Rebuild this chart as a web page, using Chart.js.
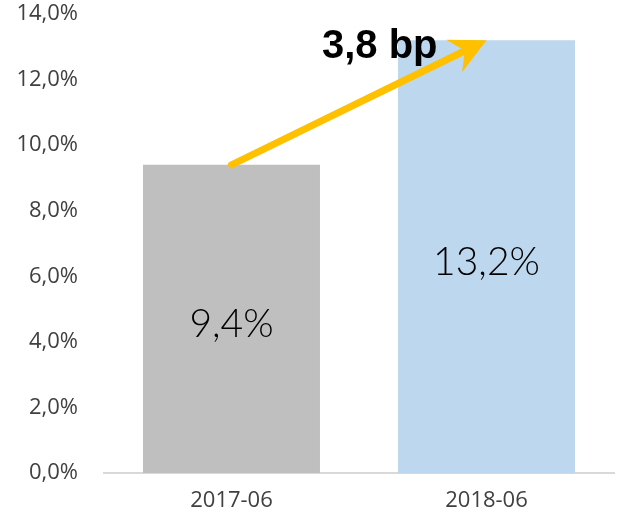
<!DOCTYPE html>
<html>
<head>
<meta charset="utf-8">
<script src="https://cdn.jsdelivr.net/npm/chart.js@4/dist/chart.umd.min.js"></script>
<style>
  html, body { margin: 0; padding: 0; background: #fff; }
  #wrap { width: 622px; height: 526px; }
</style>
</head>
<body>
<div id="wrap"><canvas id="chart" width="622" height="526"></canvas></div>
<script>
// Data
const categories = ["2017-06", "2018-06"];
const rates = [9.4, 13.2];
const barColors = ["#BFBFBF", "#BDD7EE"];
const yTicks = [0, 2, 4, 6, 8, 10, 12, 14];
const changeLabel = "3,8 bp";

const fmtPct = (v) => v.toFixed(1).replace(".", ",") + "%";

// Value labels inside bars, plus the orange arrow between bar tops
const overlayPlugin = {
  id: "overlay",
  afterDatasetsDraw(chart) {
    const ctx = chart.ctx;
    const bars = chart.getDatasetMeta(0).data;

    ctx.save();
    ctx.fillStyle = "#000";
    ctx.font = "300 39px Lato, 'Open Sans', sans-serif";
    ctx.textAlign = "center";
    ctx.textBaseline = "middle";
    bars.forEach((bar, i) => {
      ctx.fillText(fmtPct(rates[i]), bar.x, (bar.y + bar.base) / 2 + 6);
    });

    // arrow from first bar top to second bar top
    const x0 = bars[0].x, y0 = bars[0].y;
    const x1 = bars[1].x, y1 = bars[1].y;
    const len = Math.hypot(x1 - x0, y1 - y0);
    const dx = (x1 - x0) / len, dy = (y1 - y0) / len;
    const nx = -dy, ny = dx;
    const headLen = 36, headHalf = 18, notch = 24;

    ctx.strokeStyle = "#FFC000";
    ctx.fillStyle = "#FFC000";
    ctx.lineWidth = 7;
    ctx.lineCap = "round";
    ctx.beginPath();
    ctx.moveTo(x0, y0);
    ctx.lineTo(x1 - dx * notch, y1 - dy * notch);
    ctx.stroke();

    ctx.beginPath();
    ctx.moveTo(x1, y1);
    ctx.lineTo(x1 - dx * headLen + nx * headHalf, y1 - dy * headLen + ny * headHalf);
    ctx.lineTo(x1 - dx * notch, y1 - dy * notch);
    ctx.lineTo(x1 - dx * headLen - nx * headHalf, y1 - dy * headLen - ny * headHalf);
    ctx.closePath();
    ctx.fill();

    ctx.fillStyle = "#000";
    ctx.font = "bold 40px 'Liberation Sans', Arial, sans-serif";
    ctx.textAlign = "right";
    ctx.textBaseline = "alphabetic";
    ctx.fillText(changeLabel, x1 - 49, y1 + 18);
    ctx.restore();
  }
};

new Chart(document.getElementById("chart"), {
  type: "bar",
  data: {
    labels: categories,
    datasets: [{ data: rates, backgroundColor: barColors, barPercentage: 0.694, categoryPercentage: 1 }]
  },
  options: {
    responsive: false,
    animation: false,
    layout: { padding: { top: 14, right: 8, left: 0, bottom: 0 } },
    plugins: { legend: { display: false }, tooltip: { enabled: false } },
    scales: {
      x: {
        grid: { display: false, drawTicks: false },
        border: { color: "#D9D9D9", width: 2 },
        ticks: { color: "#404040", font: { family: "'Open Sans', sans-serif", size: 22 }, padding: 15 },
        afterFit: (scale) => { scale.height = 53; }
      },
      y: {
        min: 0,
        max: 14,
        afterBuildTicks: (scale) => { scale.ticks = yTicks.map((v) => ({ value: v })); },
        grid: { display: false, drawTicks: false },
        border: { display: false },
        ticks: {
          color: "#404040",
          font: { family: "'Open Sans', sans-serif", size: 22 },
          padding: 26,
          callback: (v) => fmtPct(v)
        },
        afterFit: (scale) => {
          scale.width = 104;
          scale.paddingTop = 0;
          scale.paddingBottom = 0;
        }
      }
    }
  },
  plugins: [overlayPlugin]
});
</script>
</body>
</html>
